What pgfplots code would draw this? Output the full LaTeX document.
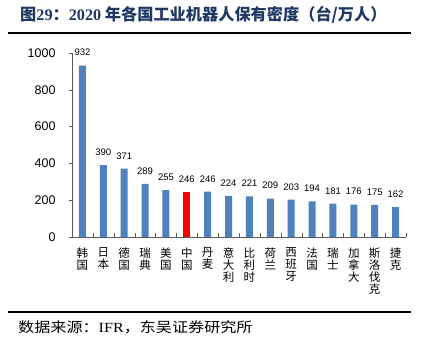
\documentclass[border=0pt]{standalone}
\usepackage{pgfplots}
\pgfplotsset{compat=1.18}
\usepackage{fontspec}
\setmainfont{Liberation Sans}
\newfontfamily\cjk{Noto Sans CJK SC}
\newfontfamily\serif{Liberation Serif}
\definecolor{barblue}{RGB}{79,129,189}
\definecolor{titleblue}{RGB}{31,56,100}
\begin{document}
\begin{tikzpicture}
\useasboundingbox (0pt,0pt) rectangle (427pt,348pt);
\node[anchor=west, text=titleblue, inner sep=0] at (20pt,333pt) {\fontsize{16.2}{18}\selectfont\cjk\bfseries 图{\serif\bfseries 29}：{\serif\bfseries 2020} 年各国工业机器人保有密度（台/万人）};
\draw[line width=1.5pt] (8pt,315pt) -- (411pt,315pt);
\draw[line width=1.5pt] (8pt,36pt) -- (411pt,36pt);
\node[anchor=west, inner sep=0] at (18pt,21pt) {\scalebox{1.15}[1]{\fontsize{14}{16}\selectfont\cjk 数据来源：{\serif IFR}，东吴证券研究所}};
\begin{axis}[at={(72pt,111pt)}, anchor=south west, scale only axis,
  width=334pt, height=184pt,
  ymin=0, ymax=1000, ytick={0,200,...,1000},
  xmin=-0.5, xmax=15.5,
  axis x line=bottom, axis y line=left,
  axis line style={-, black!65},
  tick align=outside,
  xtick={0,...,15},
  xticklabels={{韩\\国},{日\\本},{德\\国},{瑞\\典},{美\\国},{中\\国},{丹\\麦},{意\\大\\利},{比\\利\\时},{荷\\兰},{西\\班\\牙},{法\\国},{瑞\\士},{加\\拿\\大},{斯\\洛\\伐\\克},{捷\\克}},
  xticklabel style={font=\cjk\fontsize{11.5}{12}\selectfont, align=center, anchor=north, yshift=-4pt},
  major x tick style={draw=none},
  minor xtick={-0.5,0.5,...,15.5},
  minor tick length=4pt,
  minor x tick style={yshift=4pt, black!65},
  major tick length=3pt,
  y tick style={black!65},
  /pgf/number format/assume math mode=true,
  /pgf/number format/1000 sep={},
  yticklabel style={font=\fontsize{12.5}{14}\selectfont, xshift=-10pt},
  ybar, bar width=7pt,
  nodes near coords,
  every node near coord/.append style={font=\fontsize{9.5}{11}\selectfont, yshift=6pt, text=black},
  clip=false,
]
\addplot[fill=barblue, draw=none, bar shift=0pt] coordinates {
(0,932) (1,390) (2,371) (3,289) (4,255) (6,246) (7,224) (8,221) (9,209) (10,203) (11,194) (12,181) (13,176) (14,175) (15,162)};
\addplot[fill=red, draw=none, bar shift=0pt] coordinates {(5,246)};
\end{axis}
\end{tikzpicture}
\end{document}
